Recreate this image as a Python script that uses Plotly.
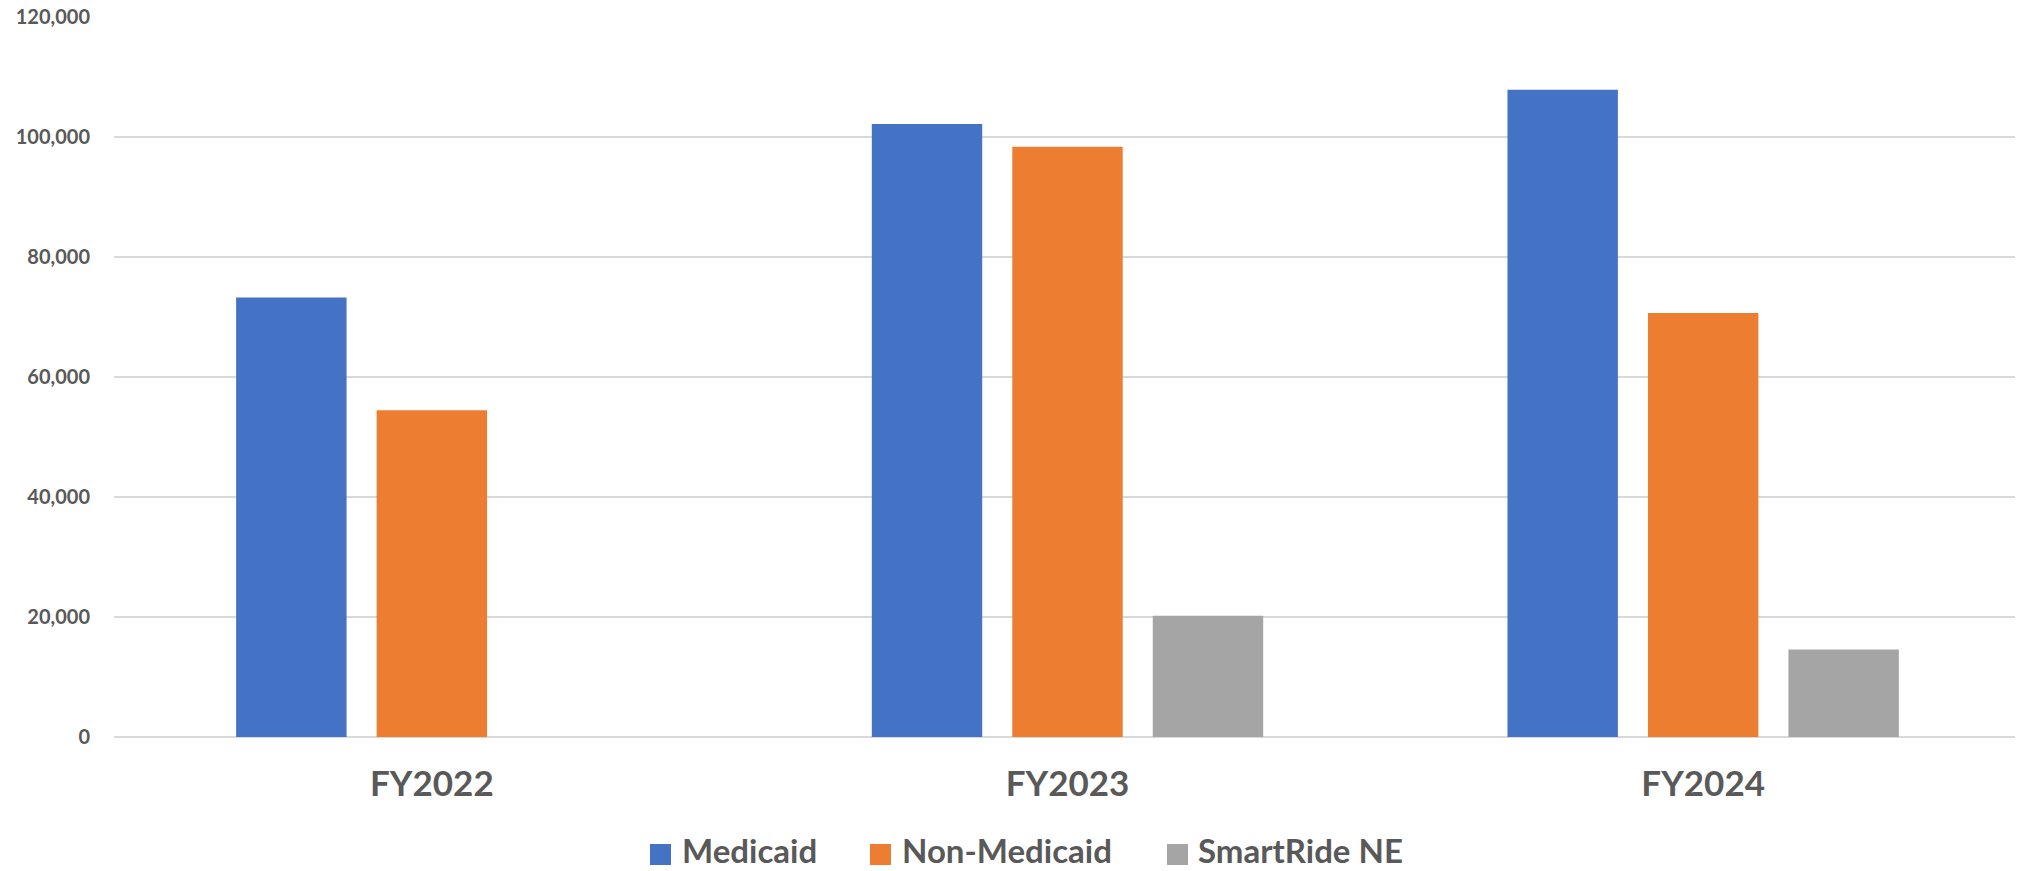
import plotly.graph_objects as go

categories = ["FY2022", "FY2023", "FY2024"]
series_names = ["Medicaid", "Non-Medicaid", "SmartRide NE"]
medicaid = [73300, 102200, 107900]
non_medicaid = [54500, 98400, 70700]
smartride = [None, 20200, 14600]
y_ticks = [0, 20000, 40000, 60000, 80000, 100000, 120000]

colors = ["#4472C4", "#ED7D31", "#A5A5A5"]
values = [medicaid, non_medicaid, smartride]

# page body has an 8px default margin; work in figure pixels = page pixels - 8
OFF = 8
W, H = 2023 - OFF, 871 - OFF
fig = go.Figure()
for name, vals, col in zip(series_names, values, colors):
    fig.add_trace(go.Bar(x=categories, y=vals, name=name, marker_color=col,
                         marker_line_width=0, showlegend=False))

ml, mr, mt, mb = 114 - OFF, 2, 17 - OFF, 134
pw, ph = W - ml - mr, H - mt - mb
def px_x(x):
    return (x - OFF - ml) / pw
def px_y(y):
    return (H - mb - (y - OFF)) / ph

swatch_left = [650, 870, 1167]
text_left = [681, 901, 1197]
sw = 21
sy0, sy1 = 844, 865
for name, col, sx, tx in zip(series_names, colors, swatch_left, text_left):
    fig.add_shape(type="rect", xref="paper", yref="paper",
                  x0=px_x(sx), x1=px_x(sx + sw), y0=px_y(sy1), y1=px_y(sy0),
                  fillcolor=col, line_width=0)
    fig.add_annotation(xref="paper", yref="paper", x=px_x(tx), y=px_y(850),
                       text=name, showarrow=False, xanchor="left", yanchor="middle",
                       borderpad=0,
                       font=dict(family="Lato", size=33, color="#595959", weight="bold"))

fig.update_layout(
    width=W, height=H,
    margin=dict(l=ml, r=mr, t=mt, b=mb, autoexpand=False),
    paper_bgcolor="white", plot_bgcolor="white",
    barmode="group", bargap=0.337, bargroupgap=0.214,
    showlegend=False,
    xaxis=dict(range=[-0.5, 2.5], showgrid=False, zeroline=False, showline=False,
               ticks="", ticklabelstandoff=23, automargin=False,
               tickfont=dict(family="Lato", size=35, color="#595959", weight="bold")),
    yaxis=dict(range=[0, 120050], tickvals=y_ticks, tickformat=",",
               showgrid=True, gridcolor="#D9D9D9", gridwidth=1.5,
               zeroline=True, zerolinecolor="#D9D9D9", zerolinewidth=1.5,
               showline=False, ticks="", ticklabelstandoff=23,
               ticklabeloverflow="allow", automargin=False,
               tickfont=dict(family="Lato", size=20, color="#595959", weight="bold")),
)

fig.write_html("out.html")
